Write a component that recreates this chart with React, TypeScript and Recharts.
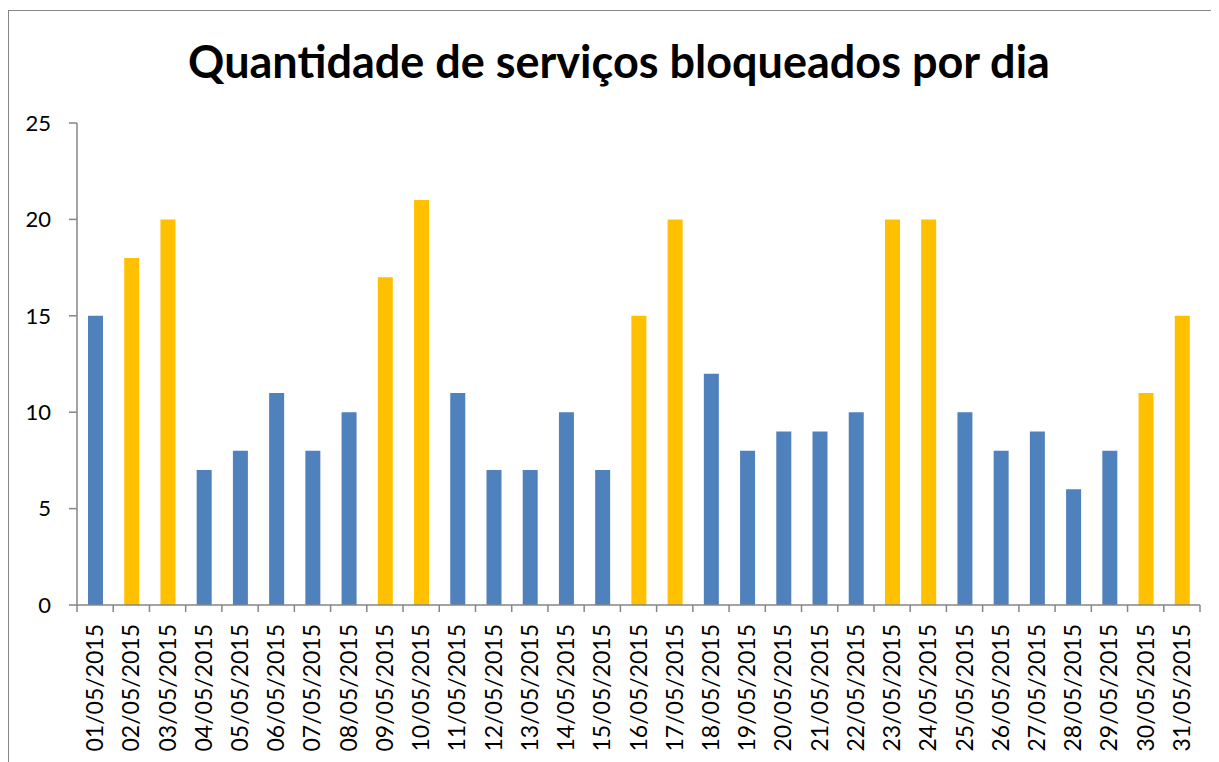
import React from "react";
import { BarChart, Bar, XAxis, YAxis, CartesianGrid, Cell } from "recharts";

const dates = [
  "01/05/2015","02/05/2015","03/05/2015","04/05/2015","05/05/2015","06/05/2015","07/05/2015","08/05/2015",
  "09/05/2015","10/05/2015","11/05/2015","12/05/2015","13/05/2015","14/05/2015","15/05/2015","16/05/2015",
  "17/05/2015","18/05/2015","19/05/2015","20/05/2015","21/05/2015","22/05/2015","23/05/2015","24/05/2015",
  "25/05/2015","26/05/2015","27/05/2015","28/05/2015","29/05/2015","30/05/2015","31/05/2015",
];
const values = [15,18,20,7,8,11,8,10,17,21,11,7,7,10,7,15,20,12,8,9,9,10,20,20,10,8,9,6,8,11,15];
const weekend = [0,1,1,0,0,0,0,0,1,1,0,0,0,0,0,1,1,0,0,0,0,0,1,1,0,0,0,0,0,1,1];
const yTicks = [0,5,10,15,20,25];
const title = "Quantidade de serviços bloqueados por dia";

const BLUE = "#4F81BD";
const YELLOW = "#FFC000";
const GRAY = "#868686";
const FONT = "Lato, 'Open Sans', sans-serif";

const W = 1211;
const H = 754;
const MARGIN = { top: 115, right: 19, left: 0, bottom: 0 };
const Y_WIDTH = 69;
const HALF_BAND = (W - MARGIN.right - MARGIN.left - Y_WIDTH) / dates.length / 2;

const data = dates.map((d, i) => ({ date: d, value: values[i], weekend: weekend[i] }));

const XTick = (props: any) => {
  const { x, y, payload, index } = props;
  const axisY = y - 9;
  const isLast = index === dates.length - 1;
  return (
    <g>
      <line x1={x - HALF_BAND} x2={x - HALF_BAND} y1={axisY} y2={axisY + 7} stroke={GRAY} strokeWidth={1.5} />
      {isLast && (
        <line x1={x + HALF_BAND} x2={x + HALF_BAND} y1={axisY} y2={axisY + 7} stroke={GRAY} strokeWidth={1.5} />
      )}
      <g transform={`translate(${x},${axisY})`}>
        <text
          x={0}
          y={0}
          dx={-19}
          dy={8}
          transform="rotate(-90)"
          textAnchor="end"
          fontFamily={FONT}
          fontSize={23}
          fill="#000"
        >
          {payload.value}
        </text>
      </g>
    </g>
  );
};

export default function App() {
  return (
    <div style={{ width: W, height: H, position: "relative" }}>
      <BarChart width={W} height={H} data={data} margin={MARGIN} barSize={15}>
        <rect x={0.5} y={2.5} width={W + 20} height={H + 20} fill="#fff" stroke={GRAY} strokeWidth={1} />
        <text
          x={611}
          y={70}
          textAnchor="middle"
          fontFamily={FONT}
          fontWeight="bold"
          fontSize={45}
          fill="#000"
        >
          {title}
        </text>
        <CartesianGrid vertical={false} stroke={GRAY} strokeWidth={1.5} />
        <XAxis
          dataKey="date"
          interval={0}
          height={157}
          axisLine={{ stroke: GRAY, strokeWidth: 1.5 }}
          tickLine={false}
          tickSize={0}
          tickMargin={9}
          tick={<XTick />}
        />
        <YAxis
          width={Y_WIDTH}
          domain={[0, 25]}
          ticks={yTicks}
          interval={0}
          axisLine={{ stroke: GRAY, strokeWidth: 1.5 }}
          tickLine={{ stroke: GRAY, strokeWidth: 1.5 }}
          tickSize={8}
          tickMargin={18}
          tick={{ fontFamily: FONT, fontSize: 22, fill: "#000" }}
        />
        <Bar dataKey="value" isAnimationActive={false}>
          {data.map((d, i) => (
            <Cell key={i} fill={d.weekend ? YELLOW : BLUE} />
          ))}
        </Bar>
      </BarChart>
    </div>
  );
}
